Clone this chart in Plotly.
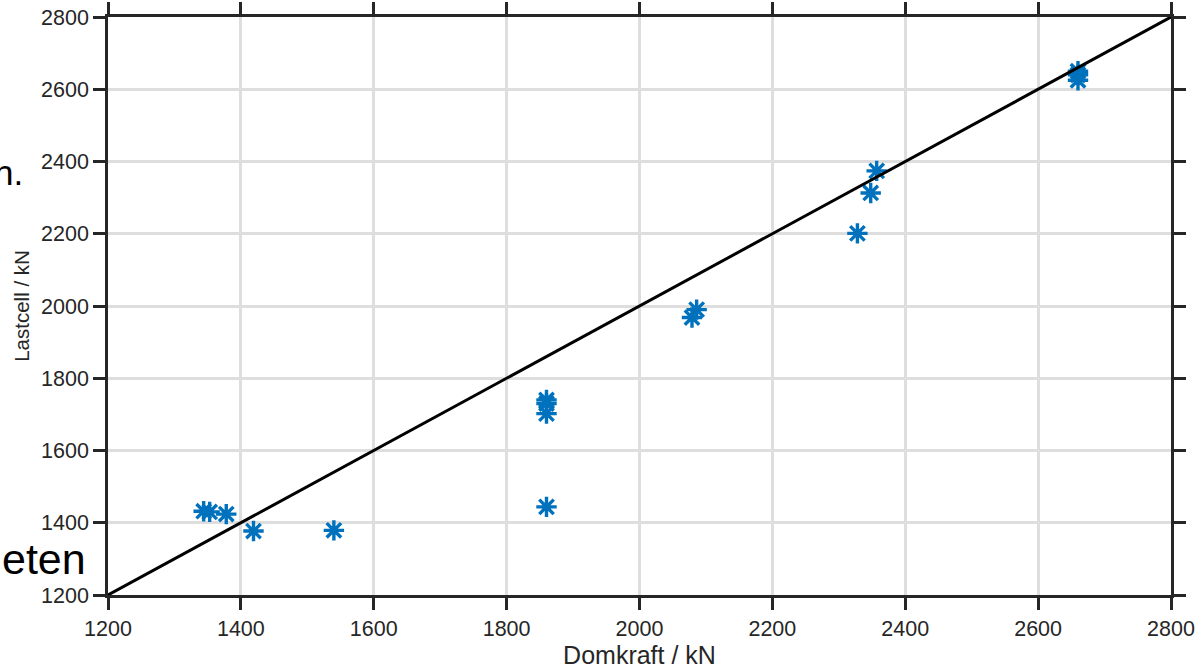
import plotly.graph_objects as go

# Measured data (Domkraft vs Lastcell, kN)
domkraft = [1344, 1353, 1378, 1419, 1540, 1860, 1860, 1860, 1860,
            2079, 2086, 2328, 2348, 2357, 2660, 2660, 2660]
lastcell = [1432, 1430, 1424, 1377, 1379, 1740, 1730, 1702, 1444,
            1968, 1990, 2201, 2313, 2374, 2650, 2640, 2625]

# Reference 1:1 line
ref_x = [1200, 2800]
ref_y = [1200, 2800]

tick_vals = [1200, 1400, 1600, 1800, 2000, 2200, 2400, 2600, 2800]

FONT = "Liberation Sans, Arial, sans-serif"
AX = "#262626"

fig = go.Figure()
fig.add_trace(go.Scatter(
    x=domkraft, y=lastcell, mode="markers",
    marker=dict(symbol="asterisk-open", size=17,
                line=dict(color="#0072BD", width=3.4), color="#0072BD"),
    showlegend=False, cliponaxis=False,
))
fig.add_trace(go.Scatter(
    x=ref_x, y=ref_y, mode="lines",
    line=dict(color="black", width=3), showlegend=False, cliponaxis=False,
))

axis_common = dict(
    range=[1200, 2800], tickvals=tick_vals, ticks="outside", ticklen=12,
    tickwidth=2.5, tickcolor=AX, showline=True, linecolor=AX, linewidth=2.5,
    mirror="ticks", showgrid=True, gridcolor="#dedede", gridwidth=2.5,
    zeroline=False, tickfont=dict(family=FONT, size=21.5, color=AX),
    automargin=False, ticklabeloverflow="allow",
)

fig.update_xaxes(**axis_common,
                 title=dict(text="Domkraft / kN", standoff=6,
                            font=dict(family=FONT, size=25, color=AX)))
fig.update_yaxes(**axis_common,
                 title=dict(text="Lastcell / kN", standoff=6,
                            font=dict(family=FONT, size=20.5, color=AX)))

# Fragments of slide text visible behind the figure
fig.add_annotation(text="n.", xref="paper", yref="paper",
                   x=-0.078, y=0.731, xanchor="right", yanchor="middle",
                   showarrow=False, font=dict(family=FONT, size=35, color="black"))
fig.add_annotation(text="eten", xref="paper", yref="paper",
                   x=-0.019, y=0.062, xanchor="right", yanchor="middle",
                   showarrow=False, font=dict(family=FONT, size=43, color="black"))

fig.update_layout(
    width=1203, height=670,
    margin=dict(l=108, r=32, t=17, b=75),
    paper_bgcolor="white", plot_bgcolor="white",
)

# remove the page's default 8 px body margin so the figure fills the window
fig.write_html("out.html",
               config={"displayModeBar": False},
               post_script="document.body.style.margin='0';"
                           "document.body.style.overflow='hidden';")
